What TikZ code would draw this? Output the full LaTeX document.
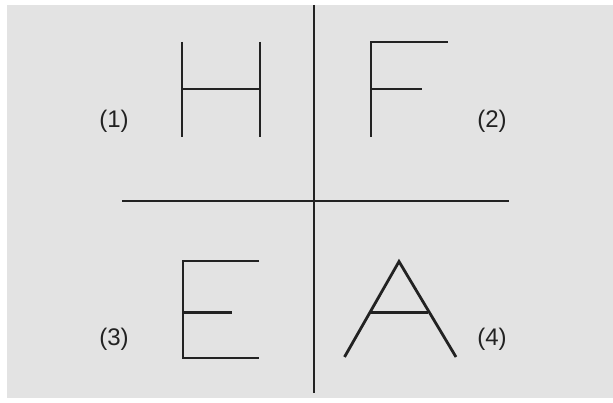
\documentclass[tikz,border=0pt]{standalone}
\usepackage{fontspec}
\setmainfont{Liberation Sans}
\definecolor{bg}{HTML}{E3E3E3}
\definecolor{ink}{HTML}{222222}
\tikzset{
  stroke/.style={draw=ink, line width=2.8pt},
  lbl/.style={font=\fontsize{24}{27}\selectfont, text=ink, inner sep=0pt}
}
\begin{document}
\begin{tikzpicture}[x=1pt,y=-1pt]
\useasboundingbox (0,0) rectangle (613,403);
\fill[white] (0,0) rectangle (613,403);
\fill[bg] (7,5) rectangle (613,398);
% axes
\coordinate (vt) at (314,5);
\coordinate (vb) at (314,393);
\coordinate (hl) at (122,201);
\coordinate (hr) at (509,201);
\draw[stroke] (vt) -- (vb);
\draw[stroke] (hl) -- (hr);
% H
\draw[stroke] (182,42) -- (182,137);
\draw[stroke] (260,42) -- (260,137);
\draw[stroke] (182,89) -- (260,89);
% F
\draw[stroke] (371,137) -- (371,42) -- (448,42);
\draw[stroke] (371,89) -- (422,89);
% E
\draw[stroke] (259,261) -- (183,261) -- (183,358) -- (259,358);
\draw[stroke] (183,312.5) -- (232,312.5);
% A
\draw[stroke] (344.5,357) -- (399,261.5) -- (456,357);
\draw[stroke] (371,312.5) -- (427.5,312.5);
% labels
\node[lbl] (l1) at (114,121) {(1)};
\node[lbl] (l2) at (492,121) {(2)};
\node[lbl] (l3) at (114,339) {(3)};
\node[lbl] (l4) at (492,339) {(4)};
\end{tikzpicture}
\end{document}
